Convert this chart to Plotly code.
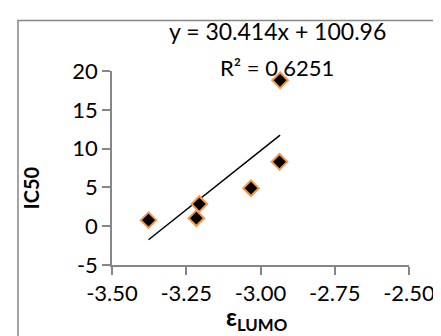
import plotly.graph_objects as go

# Data
e_lumo = [-3.377, -3.216, -3.206, -3.032, -2.936, -2.934]
ic50 = [0.78, 1.03, 2.85, 4.9, 8.3, 18.8]

# Trendline as given in the chart label
slope = 30.414
intercept = 100.96
r2 = 0.6251

x_ticks = [-3.50, -3.25, -3.00, -2.75, -2.50]
y_ticks = [-5, 0, 5, 10, 15, 20]

FONT = "Lato"
GRAY = "#868686"
FS = 22

trend_x = [min(e_lumo), max(e_lumo)]
trend_y = [slope * v + intercept for v in trend_x]

fig = go.Figure()

# R² label drawn beneath the markers (as in the original)
fig.add_trace(go.Scatter(
    x=[-2.944], y=[18.7],
    mode="text",
    text=[f"R² = {r2}"],
    textposition="top center",
    textfont=dict(family=FONT, size=FS, color="#000000"),
    cliponaxis=False, hoverinfo="skip", showlegend=False,
))

fig.add_trace(go.Scatter(
    x=trend_x, y=trend_y, mode="lines",
    line=dict(color="#000000", width=1.5),
    showlegend=False, cliponaxis=False,
))

fig.add_trace(go.Scatter(
    x=e_lumo, y=ic50, mode="markers",
    marker=dict(symbol="diamond", size=12, color="#000000",
                line=dict(color="#F79646", width=2)),
    showlegend=False, cliponaxis=False,
))

fig.update_layout(
    width=441, height=336,
    margin=dict(l=104, r=40, t=63, b=79),
    paper_bgcolor="white", plot_bgcolor="white",
    font=dict(family=FONT, size=FS, color="#000000"),
    showlegend=False,
    xaxis=dict(
        range=[-3.5, -2.5], tickvals=x_ticks,
        ticktext=[f"{v:.2f}" for v in x_ticks],
        showgrid=False, zeroline=False,
        showline=True, linecolor=GRAY, linewidth=1.5,
        ticks="outside", ticklen=8, tickcolor=GRAY, tickwidth=1.5,
        tickfont=dict(family=FONT, size=FS),
    ),
    yaxis=dict(
        range=[-5, 20], tickvals=y_ticks,
        ticktext=[str(v) for v in y_ticks],
        showgrid=False, zeroline=False,
        showline=True, linecolor=GRAY, linewidth=1.5,
        ticks="outside", ticklen=8, tickcolor=GRAY, tickwidth=1.5,
        tickfont=dict(family=FONT, size=FS),
    ),
    shapes=[dict(
        type="rect", xref="paper", yref="paper",
        x0=-0.3165, x1=1.2, y0=-0.5, y1=1.26,
        line=dict(color=GRAY, width=1.5), fillcolor="rgba(0,0,0,0)",
        layer="below",
    )],
    annotations=[
        dict(text=f"y = {slope}x + {intercept}", xref="paper", yref="paper",
             x=0.556, y=1.205, showarrow=False,
             xanchor="center", yanchor="middle",
             font=dict(family=FONT, size=23)),
        dict(text="<b>IC50</b>", xref="paper", yref="paper",
             x=-0.27, y=0.40, textangle=-90, showarrow=False,
             xanchor="center", yanchor="middle",
             font=dict(family=FONT, size=20)),
        dict(text="<b>ε<sub>LUMO</sub></b>", xref="paper", yref="paper",
             x=0.485, y=-0.275, showarrow=False,
             xanchor="center", yanchor="middle",
             font=dict(family=FONT, size=24)),
    ],
)

fig.write_html("out.html")
